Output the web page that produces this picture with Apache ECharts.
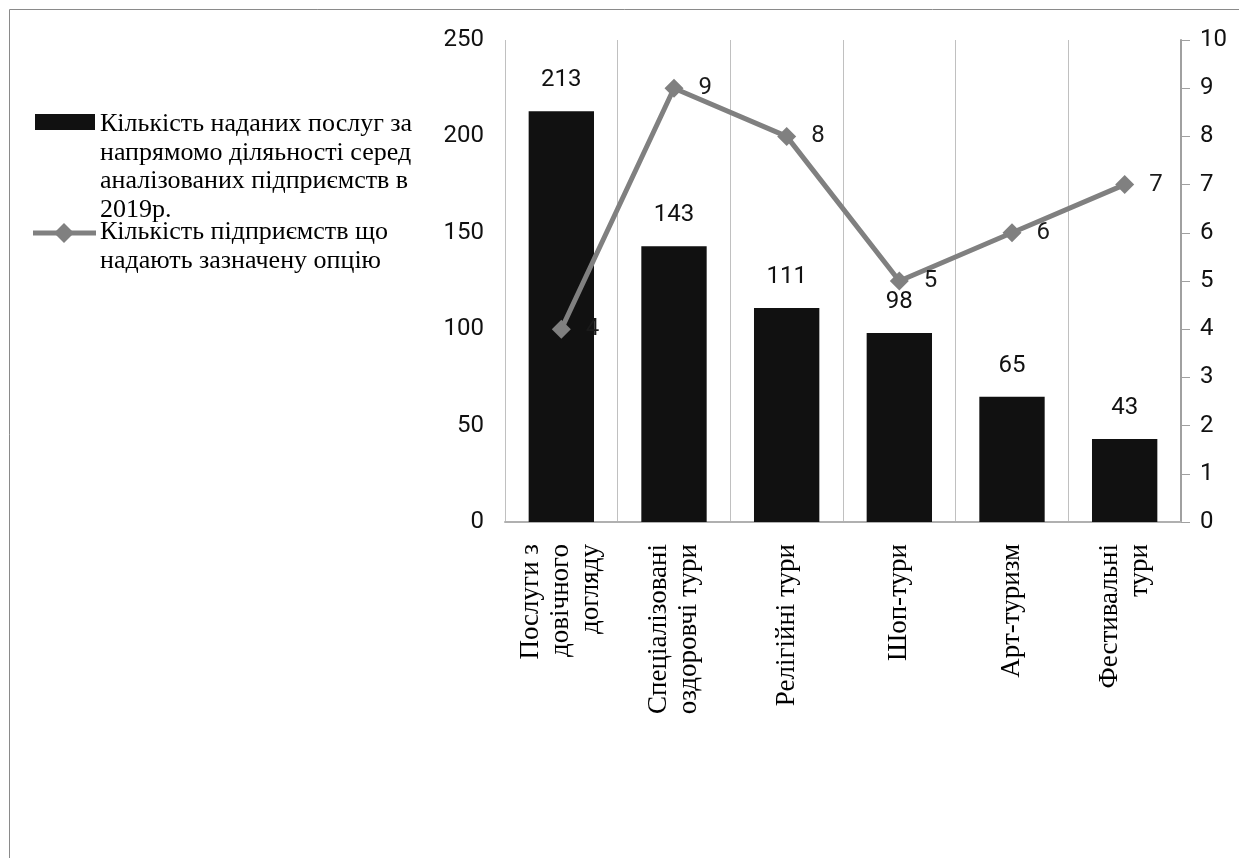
<!DOCTYPE html>
<html>
<head>
<meta charset="utf-8">
<script src="https://cdn.jsdelivr.net/npm/echarts@6/dist/echarts.min.js"></script>
<style>
html,body{margin:0;padding:0;background:#fff;}
#chart{width:1239px;height:858px;}
</style>
</head>
<body>
<div id="chart"></div>
<script>
var categories = ['Послуги з\nдовічного\nдогляду', 'Спеціалізовані\nоздоровчі тури', 'Релігійні тури', 'Шоп-тури', 'Арт-туризм', 'Фестивальні\nтури'];
var servicesCount = [213, 143, 111, 98, 65, 43];
var enterprisesCount = [4, 9, 8, 5, 6, 7];
var leftTicks = [0, 250, 50];
var rightTicks = [0, 10, 1];
var legendBarText = 'Кількість наданих послуг за\nнапрямомо діляьності серед\nаналізованих підприємств в\n2019р.';
var legendLineText = 'Кількість підприємств що\nнадають зазначену опцію';

var serif = '"Liberation Serif", "Times New Roman", serif';
var sans = 'Roboto, "Open Sans", sans-serif';

var chart = echarts.init(document.getElementById('chart'));
chart.setOption({
  animation: false,
  backgroundColor: '#fff',
  grid: {left: 505, right: 58, top: 40, bottom: 336, containLabel: false},
  xAxis: {
    type: 'category',
    data: categories,
    axisLine: {show: true, lineStyle: {color: '#b0b0b0', width: 2}},
    axisTick: {show: false},
    splitLine: {show: true, lineStyle: {color: '#c0c0c0', width: 1}},
    axisLabel: {
      rotate: 90, interval: 0, margin: 22,
      fontFamily: serif, fontSize: 27, lineHeight: 30, color: '#000'
    }
  },
  yAxis: [{
    type: 'value', min: leftTicks[0], max: leftTicks[1], interval: leftTicks[2],
    axisLine: {show: false}, axisTick: {show: false}, splitLine: {show: false},
    axisLabel: {margin: 21, fontFamily: sans, fontSize: 24, color: '#111'}
  }, {
    type: 'value', min: rightTicks[0], max: rightTicks[1], interval: rightTicks[2],
    position: 'right',
    axisLine: {show: true, lineStyle: {color: '#a0a0a0', width: 2}},
    axisTick: {show: true, length: 9, lineStyle: {color: '#a0a0a0', width: 1}},
    splitLine: {show: false},
    axisLabel: {margin: 19, fontFamily: sans, fontSize: 24, color: '#111'}
  }],
  series: [{
    name: 'bars', type: 'bar', data: servicesCount, yAxisIndex: 0,
    barWidth: '58%',
    itemStyle: {color: '#111111'},
    label: {show: true, position: 'top', distance: 19, fontFamily: sans, fontSize: 24, color: '#111'}
  }, {
    name: 'line', type: 'line', data: enterprisesCount, yAxisIndex: 1,
    symbol: 'diamond', symbolSize: 19,
    lineStyle: {color: '#808080', width: 5},
    itemStyle: {color: '#808080'},
    label: {show: true, position: 'right', distance: 15, fontFamily: sans, fontSize: 24, color: '#1a1a1a'}
  }],
  graphic: [
    {type: 'rect', silent: true, shape: {x: 9.5, y: 9.5, width: 1260, height: 880},
     style: {fill: 'none', stroke: '#8a8a8a', lineWidth: 1}, z: -10},
    {type: 'rect', shape: {x: 35, y: 114, width: 60, height: 16}, style: {fill: '#111111'}},
    {type: 'text', x: 100, y: 110, style: {text: legendBarText, font: '26px ' + serif, lineHeight: 28.5, fill: '#000', verticalAlign: 'top'}},
    {type: 'line', shape: {x1: 33, y1: 233, x2: 96, y2: 233}, style: {stroke: '#808080', lineWidth: 5}},
    {type: 'polygon', shape: {points: [[64, 223], [74, 233], [64, 243], [54, 233]]}, style: {fill: '#808080'}},
    {type: 'text', x: 100, y: 218, style: {text: legendLineText, font: '26px ' + serif, lineHeight: 29, fill: '#000', verticalAlign: 'top'}}
  ]
});
</script>
</body>
</html>
